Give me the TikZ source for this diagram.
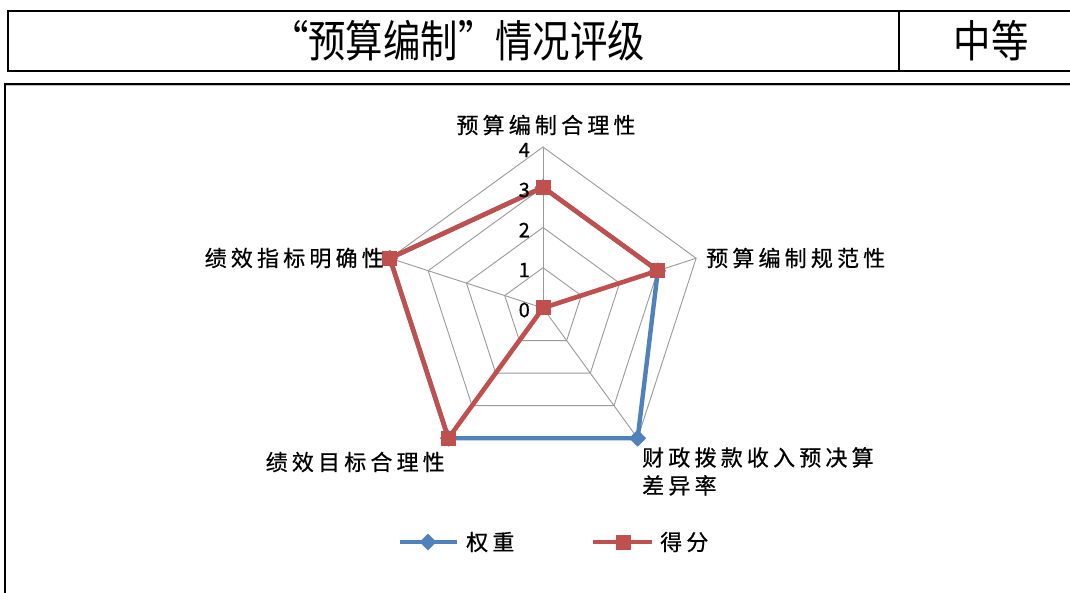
\documentclass[tikz,border=0pt]{standalone}
\usepackage{fontspec}
\newfontfamily\cjk[FakeBold=0.6]{Noto Sans CJK SC}
\newfontfamily\cjktitle[FakeStretch=0.85]{Noto Sans CJK SC}
\newfontfamily\cjklab[LetterSpace=19,FakeBold=0.6]{Noto Sans CJK SC}
\usetikzlibrary{shapes.geometric}
\definecolor{wblue}{HTML}{4F81BD}
\definecolor{sred}{HTML}{C0504D}
\definecolor{gridgray}{HTML}{9A9A9A}
\begin{document}
\begin{tikzpicture}[x=1pt,y=1pt,
  grid/.style={draw=gridgray, line width=0.9pt},
  wline/.style={draw=wblue, line width=4.4pt, line join=round},
  sline/.style={draw=sred, line width=4.6pt, line join=round},
  smark/.style={rectangle, fill=sred, minimum size=15pt, inner sep=0pt},
  wmark/.style={diamond, fill=wblue, minimum size=17pt, inner sep=0pt},
  lab/.style={font=\cjklab\fontsize{22}{28}\selectfont, inner sep=0pt, align=left},
  tick/.style={font=\cjk\fontsize{20}{21}\selectfont, inner sep=0pt, anchor=east},
  titlefont/.style={font=\cjktitle\fontsize{44}{46}\selectfont, inner sep=0pt},
  frame/.style={draw=black, line width=1.6pt}
]
\useasboundingbox (0,0) rectangle (1070,592);
\clip (0,0) rectangle (1070,592);
\fill[white] (0,0) rectangle (1070,592);
% top table
\draw[frame] (8,521) rectangle (1090,581);
\coordinate (divtop) at (899,581);
\coordinate (divbot) at (899,521);
\draw[frame] (divtop) -- (divbot);
\node[titlefont] (title) at (458,551) {“预算编制”情况评级};
\node[titlefont] (grade) at (991,551) {中等};
% chart frame
\draw[draw=black, line width=2pt] (4.5,-20) -- (4.5,508) -- (1090,508);
\draw[draw=gray!50, line width=0.8pt] (6,506.3) -- (1090,506.3);
% radar
\begin{scope}[shift={(543,284)}]
  \foreach \k in {1,2,3,4} {
    \draw[grid] (90:\k*40.25) -- (18:\k*40.25) -- (-54:\k*40.25) -- (-126:\k*40.25) -- (162:\k*40.25) -- cycle;
  }
  \coordinate (o) at (0,0);
  \foreach \a in {90,18,-54,-126,162} {
    \draw[grid] (o) -- (\a:161);
  }
  % weights
  \coordinate (w1) at (90:120.75);
  \coordinate (w2) at (18:120.75);
  \coordinate (w3) at (-54:161);
  \coordinate (w4) at (-126:161);
  \coordinate (w5) at (162:161);
  % scores
  \coordinate (s1) at (90:120.75);
  \coordinate (s2) at (18:120.75);
  \coordinate (s3) at (0,0);
  \coordinate (s4) at (-126:161);
  \coordinate (s5) at (162:161);
  \draw[wline] (w1) -- (w2) -- (w3) -- (w4) -- (w5) -- cycle;
  \foreach \p in {w1,w2,w3,w4,w5} { \node[wmark] at (\p) {}; }
  \draw[sline] (s1) -- (s2) -- (s3) -- (s4) -- (s5) -- cycle;
  \foreach \p in {s1,s2,s3,s4,s5} { \node[smark] at (\p) {}; }
\end{scope}
% tick labels
\node[tick] (t0) at (530,282) {0};
\node[tick] (t1) at (530,322) {1};
\node[tick] (t2) at (530,362) {2};
\node[tick] (t3) at (530,402) {3};
\node[tick] (t4) at (530,442) {4};
% axis labels
\node[lab] (l1) at (546,467) {预算编制合理性};
\node[lab, anchor=east] (l5) at (384,334) {绩效指标明确性};
\node[lab, anchor=west] (l2) at (706,334) {预算编制规范性};
\node[lab, anchor=north west] (l3) at (642,145) {财政拨款收入预决算\\差异率};
\node[lab, anchor=east] (l4) at (445,130) {绩效目标合理性};
% legend
\coordinate (lw1) at (400,50);
\coordinate (lw2) at (457,50);
\draw[wline] (lw1) -- (lw2);
\node[wmark] (lwm) at (428,50) {};
\node[lab, anchor=west] (lwt) at (466,50) {权重};
\coordinate (ls1) at (593,50);
\coordinate (ls2) at (652,50);
\draw[sline] (ls1) -- (ls2);
\node[smark] (lsm) at (623,50) {};
\node[lab, anchor=west] (lst) at (660,50) {得分};
\end{tikzpicture}
\end{document}
